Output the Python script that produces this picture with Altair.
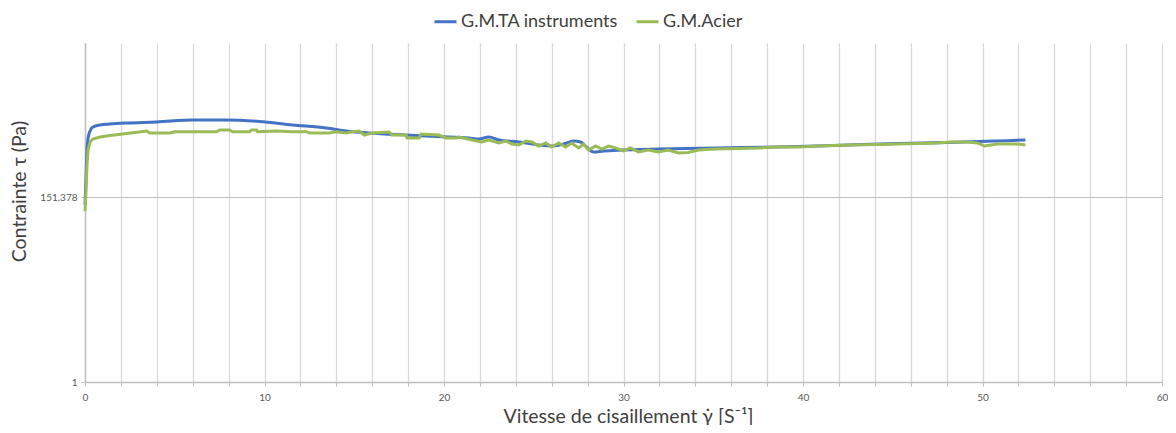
import altair as alt
import pandas as pd

series_names = ["G.M.TA instruments", "G.M.Acier"]
series_colors = ["#4472C4", "#9BBB59"]
x_tick_values = list(range(0, 61, 2))
y_tick_values = [1, 151.378]

# G.M.TA instruments (shear rate s^-1, stress Pa)
ta_x = [0.0, 0.06, 0.11, 0.17, 0.28, 0.44, 0.83, 1.39, 2.33, 4.0, 6.0, 7.89, 9.72,
        11.56, 13.44, 14.56, 15.83, 17.89, 19.72, 21.39, 21.94, 22.5, 23.06, 24.17,
        25.28, 26.11, 26.67, 27.22, 27.61, 27.94, 28.33, 28.89, 29.89, 31.94, 35.28,
        39.72, 42.5, 45.28, 48.06, 50.83, 52.39]
ta_y = [123, 277, 546, 757, 916, 1020, 1078, 1107, 1138, 1169, 1234, 1234, 1185,
        1078, 993, 916, 867, 821, 788, 757, 736, 778, 717, 679,
        626, 609, 643, 698, 679, 593, 518, 532, 546, 561, 577,
        601, 626, 652, 670, 698, 717]

# G.M.Acier
acier_x = [0.0, 0.06, 0.11, 0.17, 0.28, 0.44, 0.83, 1.39, 2.33, 3.44, 3.61, 4.72, 5.0,
           7.33, 7.5, 8.06, 8.22, 9.17, 9.28, 9.56, 9.61, 10.67, 11.56, 12.33, 12.5,
           13.61, 14.0, 14.56, 14.89, 15.28, 15.56, 16.0, 16.94, 17.11, 17.89, 17.94,
           18.61, 18.72, 19.72, 20.11, 20.67, 20.83, 21.56, 22.11, 22.5, 23.06, 23.44,
           23.78, 24.17, 24.56, 24.89, 25.28, 25.67, 26.0, 26.39, 26.78, 27.11, 27.5,
           27.78, 28.06, 28.44, 28.78, 29.17, 29.56, 30.0, 30.39, 30.83, 31.39, 31.94,
           32.5, 33.06, 33.61, 34.17, 35.11, 36.39, 37.5, 38.61, 39.72, 40.83, 42.5,
           44.17, 45.28, 46.39, 47.5, 48.22, 49.17, 49.72, 50.11, 50.83, 51.39, 51.94,
           52.39]
acier_y = [104, 184, 363, 546, 679, 736, 778, 810, 855, 916, 867, 867, 898,
           898, 941, 941, 898, 898, 941, 941, 898, 916, 898, 898, 867,
           867, 898, 867, 898, 916, 821, 867, 891, 821, 821, 757,
           757, 844, 821, 757, 757, 778, 717, 679, 717, 661, 698,
           643, 626, 698, 679, 609, 661, 593, 661, 593, 661, 577,
           643, 546, 609, 561, 609, 577, 532, 577, 518, 546, 518,
           546, 504, 511, 546, 561, 569, 577, 593, 593, 609, 626,
           634, 643, 652, 661, 679, 679, 661, 609, 643, 643, 643,
           626]

df_ta = pd.DataFrame({"x": ta_x, "y": ta_y, "serie": series_names[0],
                      "ordre": list(range(len(ta_x)))})
df_acier = pd.DataFrame({"x": acier_x, "y": acier_y, "serie": series_names[1],
                         "ordre": list(range(len(acier_x)))})

x_enc = alt.X(
    "x:Q",
    scale=alt.Scale(domain=[0, 60], nice=False, zero=False),
    axis=alt.Axis(
        values=x_tick_values,
        labelExpr="datum.value % 10 == 0 ? datum.label : ''",
        title="Vitesse de cisaillement  γ̇ [S⁻¹]",
        titleFontSize=19.5, titleFontWeight="normal", titleColor="#404040",
        titleX=543, titleAlign="center", titlePadding=5,
        labelFontSize=10, labelColor="#595959", labelPadding=6,
        labelFlush=False, labelOverlap=False,
        grid=True, gridColor="#d9d9d9", gridWidth=1.3,
        domainColor="#bfbfbf", domainWidth=1.5,
        tickColor="#bfbfbf", tickSize=4,
    ),
)
y_enc = alt.Y(
    "y:Q",
    scale=alt.Scale(type="log", domain=[1, 10000], nice=False),
    axis=alt.Axis(
        values=y_tick_values,
        format="~g",
        title="Contrainte τ  (Pa)",
        titleFontSize=19.5, titleFontWeight="normal", titleColor="#404040",
        titleY=148, titleAlign="center", titlePadding=10,
        labelFontSize=10, labelColor="#595959", labelPadding=4,
        grid=True, gridColor="#bfbfbf", gridWidth=1.2,
        domainColor="#bfbfbf", domainWidth=1.5,
        tickColor="#bfbfbf", tickSize=4,
    ),
)
color_enc = alt.Color(
    "serie:N",
    scale=alt.Scale(domain=series_names, range=series_colors),
    legend=alt.Legend(
        title=None, orient="none", direction="horizontal",
        legendX=348, legendY=-34,
        symbolType="stroke", symbolSize=484, symbolStrokeWidth=3,
        labelFontSize=18, labelColor="#404040", labelOffset=3,
        labelLimit=400, columnPadding=12, padding=0,
    ),
)

line_ta = alt.Chart(df_ta).mark_line(strokeWidth=3, interpolate="monotone").encode(
    x=x_enc, y=y_enc, color=color_enc, order="ordre:Q")
line_acier = alt.Chart(df_acier).mark_line(strokeWidth=3).encode(
    x=x_enc, y=y_enc, color=color_enc, order="ordre:Q")

chart = alt.layer(line_ta, line_acier).properties(
    width=1077, height=339,
    autosize=alt.AutoSizeParams(type="none"),
    padding={"left": 77, "top": 35, "right": 6, "bottom": 43},
).configure(font="Lato").configure_view(stroke=None)

chart.save("out.html", embed_options={"renderer": "svg", "actions": False})
